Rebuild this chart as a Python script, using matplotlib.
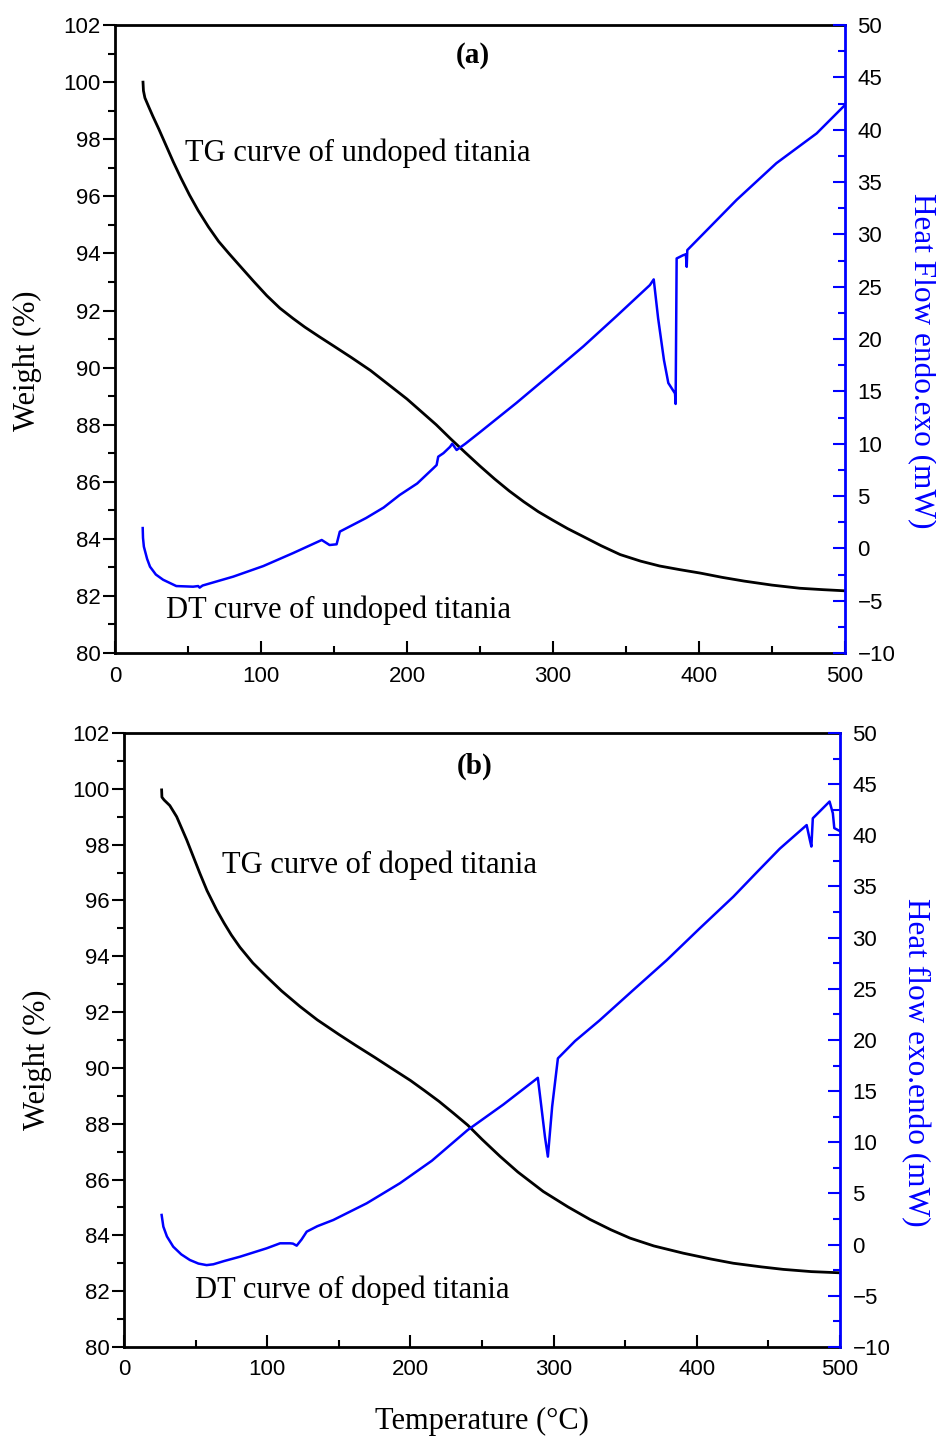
import matplotlib
matplotlib.use("Agg")
import matplotlib.pyplot as plt
from matplotlib.ticker import MultipleLocator

# ---- data ----
# (a) undoped titania
tg_a_T = [19.2, 19.5, 20.5, 23, 26, 30, 35, 40, 45, 51, 57, 64, 71, 78, 87, 95, 104, 113,
          122, 130, 140, 150, 162, 175, 187, 200, 210, 220, 230, 240, 250, 260, 270, 280,
          290, 300, 310, 320, 333, 346, 360, 373, 387, 401, 416, 431, 450, 469, 485, 500]
tg_a_W = [100.0, 99.7, 99.45, 99.15, 98.8, 98.36, 97.78, 97.2, 96.66, 96.05, 95.5, 94.93,
          94.42, 94.0, 93.48, 93.02, 92.52, 92.08, 91.72, 91.42, 91.08, 90.75, 90.35, 89.9,
          89.42, 88.9, 88.45, 88.0, 87.5, 87.02, 86.55, 86.1, 85.68, 85.3, 84.95, 84.65,
          84.36, 84.1, 83.76, 83.45, 83.22, 83.05, 82.92, 82.8, 82.65, 82.52, 82.38, 82.27,
          82.22, 82.18]

dt_a_T = [19, 19.2, 19.8, 22, 24, 28, 33, 42, 53.5, 57, 58, 60, 81, 101.6, 122, 141.6, 147,
          151.8, 154, 172, 184, 195, 207, 218, 220.3, 221.4, 225, 229.5, 231, 234, 240, 250,
          275, 298, 320.8, 343.6, 366.4, 369, 372, 376, 379, 383.6, 384, 384.7, 389, 391,
          391.6, 392, 407.5, 425.8, 453, 480.6, 500]
dt_a_mW = [1.94, 1.0, 0.16, -1.0, -1.75, -2.5, -3.0, -3.6, -3.66, -3.6, -3.75, -3.55, -2.7,
           -1.69, -0.45, 0.8, 0.32, 0.39, 1.6, 2.9, 3.9, 5.1, 6.2, 7.65, 7.96, 8.76, 9.1, 9.7,
           10.0, 9.4, 10.0, 11.1, 13.9, 16.6, 19.3, 22.2, 25.16, 25.7, 22.0, 18.0, 15.8,
           14.8, 13.8, 27.7, 28.0, 28.1, 26.9, 28.5, 30.7, 33.3, 36.8, 39.65, 42.36]

# (b) doped titania
tg_b_T = [26.3, 26.5, 28, 32, 36.8, 43.8, 53, 58, 64.7, 70, 75, 81, 90, 99.6, 110, 122.9,
          135, 150, 162, 175, 187, 200, 210, 220, 230, 240, 250, 262.6, 275, 292.8, 310,
          325.4, 340, 353.4, 370, 390.6, 410, 425.5, 445, 460.4, 480, 498.8]
tg_b_W = [99.96, 99.7, 99.6, 99.4, 99.0, 98.17, 96.97, 96.35, 95.66, 95.18, 94.76, 94.32,
          93.76, 93.27, 92.76, 92.2, 91.72, 91.2, 90.8, 90.38, 89.98, 89.55, 89.18, 88.8,
          88.38, 87.95, 87.44, 86.83, 86.27, 85.57, 85.02, 84.57, 84.2, 83.9, 83.62, 83.36,
          83.15, 83.0, 82.87, 82.78, 82.7, 82.66]

dt_b_T = [26.3, 27.5, 30, 34.4, 40, 46, 52, 57.7, 62.4, 70, 81, 99.6, 109, 116, 118, 120.6,
          124, 127.6, 135, 146.2, 169.5, 192.7, 215, 240, 265, 289, 291, 294, 296, 299, 303,
          315, 332, 355, 379, 402, 425.5, 442, 458, 476.7, 479, 480, 481, 492.7, 495, 496,
          499.4]
dt_b_mW = [2.9, 1.76, 0.8, -0.2, -0.95, -1.5, -1.85, -2.0, -1.92, -1.6, -1.18, -0.36, 0.13,
           0.13, 0.1, -0.1, 0.5, 1.27, 1.8, 2.41, 4.04, 6.0, 8.2, 11.2, 13.7, 16.3, 14.0, 10.5,
           8.6, 13.5, 18.2, 19.9, 21.9, 24.8, 27.8, 30.9, 34.0, 36.4, 38.7, 41.0, 39.5, 38.9,
           41.66, 43.3, 42.15, 40.7, 40.45]

serif = ["Liberation Serif", "DejaVu Serif"]
sans = ["Liberation Sans", "DejaVu Sans"]

fig = plt.figure(figsize=(9.37, 14.4), dpi=100)


def panel(rect, T_tg, W_tg, T_dt, mW_dt, tag, tg_text, tg_pos, dt_text, dt_pos, hf_label,
          left_lab, right_lab, xlabel=False):
    ax = fig.add_axes(rect)
    ax.plot(T_tg, W_tg, color="black", lw=2.0)
    ax.set_xlim(0, 500)
    ax.set_ylim(80, 102)
    ax.xaxis.set_major_locator(MultipleLocator(100))
    ax.xaxis.set_minor_locator(MultipleLocator(50))
    ax.yaxis.set_major_locator(MultipleLocator(2))
    ax.yaxis.set_minor_locator(MultipleLocator(1))
    ax.tick_params(axis="x", which="both", direction="in", top=False, width=1.5, pad=9)
    ax.tick_params(axis="y", which="both", direction="out", right=False, width=1.5, pad=2)
    ax.tick_params(which="major", length=8.5)
    ax.tick_params(which="minor", length=5)
    for lab in ax.get_xticklabels() + ax.get_yticklabels():
        lab.set_family(sans)
        lab.set_fontsize(16)
    for s in ["left", "bottom", "top"]:
        ax.spines[s].set_linewidth(2)
    ax.spines["right"].set_visible(False)

    ax.set_ylabel("Weight (%)", family=serif, fontsize=22)
    ax.yaxis.set_label_coords(*left_lab)
    ax.yaxis.label.set_va("center")

    ax.text(0.49, tag[1], tag[0], transform=ax.transAxes, family=serif, fontsize=21,
            fontweight="bold", ha="center", va="center")
    ax.text(tg_pos[0], tg_pos[1], tg_text, family=serif, fontsize=22, va="center")
    ax.text(dt_pos[0], dt_pos[1], dt_text, family=serif, fontsize=22, va="center")

    ax2 = ax.twinx()
    ax2.plot(T_dt, mW_dt, color="blue", lw=1.8)
    ax2.set_ylim(-10, 50)
    ax2.yaxis.set_major_locator(MultipleLocator(5))
    ax2.yaxis.set_minor_locator(MultipleLocator(2.5))
    ax2.tick_params(axis="y", which="both", direction="in", color="blue", width=1.5, pad=9)
    ax2.tick_params(which="major", length=8.5)
    ax2.tick_params(which="minor", length=5)
    for lab in ax2.get_yticklabels():
        lab.set_family(sans)
        lab.set_fontsize(16)
    for s in ["left", "bottom", "top"]:
        ax2.spines[s].set_visible(False)
    ax2.spines["right"].set_color("blue")
    ax2.spines["right"].set_linewidth(2)
    ax2.set_ylabel(hf_label, family=serif, fontsize=22.5, color="blue", rotation=270)
    ax2.yaxis.set_label_coords(*right_lab)
    ax2.yaxis.label.set_va("center")

    if xlabel:
        ax.set_xlabel("Temperature (°C)", family=serif, fontsize=22)
        ax.xaxis.set_label_coords(0.5, -0.122)
        ax.xaxis.label.set_va("center")
    return ax, ax2


panel([0.1227, 0.5465, 0.7791, 0.4361], tg_a_T, tg_a_W, dt_a_T, dt_a_mW,
      ("(a)", 0.952), "TG curve of undoped titania", (48, 97.5),
      "DT curve of undoped titania", (35, 81.5), "Heat Flow endo.exo (mW)",
      (-0.12, 0.466), (1.105, 0.465))

panel([0.1323, 0.0646, 0.7642, 0.4264], tg_b_T, tg_b_W, dt_b_T, dt_b_mW,
      ("(b)", 0.945), "TG curve of doped titania", (68.4, 97.27),
      "DT curve of doped titania", (49.6, 82.04), "Heat flow exo.endo (mW)",
      (-0.1215, 0.467), (1.105, 0.464), xlabel=True)

fig.savefig("out.png", dpi=100)
